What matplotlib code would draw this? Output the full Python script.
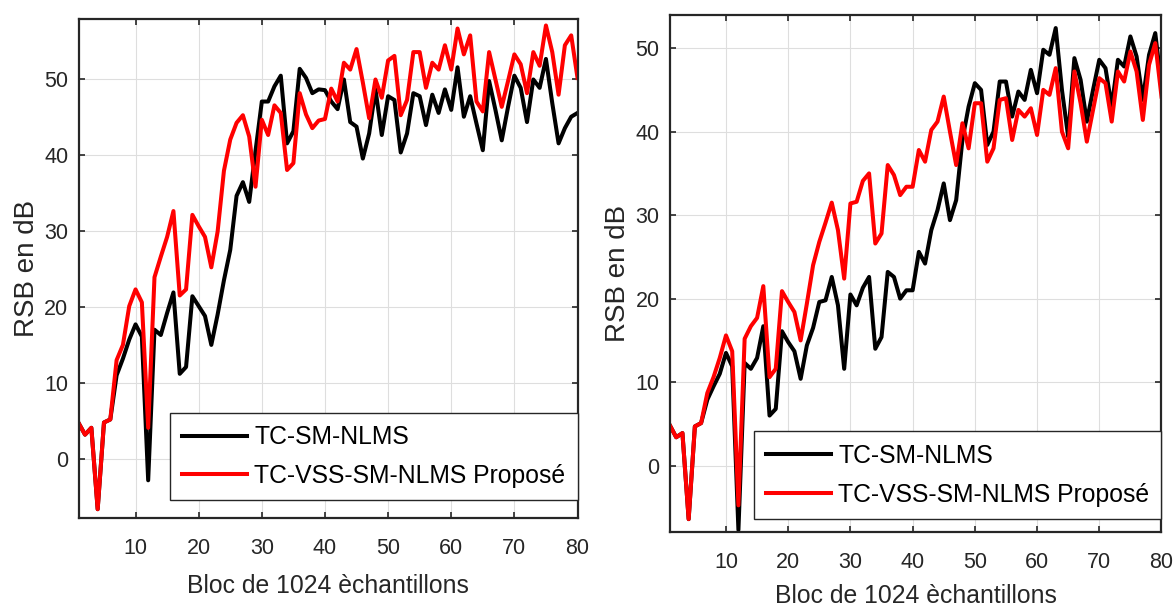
import matplotlib
matplotlib.use('Agg')
import matplotlib.pyplot as plt
import numpy as np

# block index
blocks = np.arange(1, 81)

# left panel
snr_a_sm = [4.7, 3.2, 4.1, -6.6, 4.8, 5.2, 11.0, 13.2, 15.7, 17.7,
            16.1, -2.8, 17.0, 16.3, 19.2, 21.9, 11.2, 12.1, 21.4, 20.1,
            18.8, 15.0, 19.0, 23.5, 27.5, 34.6, 36.4, 33.8, 40.5, 47.0,
            47.0, 49.0, 50.4, 41.5, 43.1, 51.3, 50.1, 48.1, 48.6, 48.5,
            47.0, 46.0, 49.9, 44.3, 43.7, 39.5, 42.8, 48.6, 42.6, 47.7,
            47.2, 40.3, 42.8, 48.1, 47.7, 43.9, 47.9, 45.5, 48.6, 45.9,
            51.5, 45.0, 47.7, 44.1, 40.6, 49.7, 45.9, 41.9, 46.3, 50.4,
            48.8, 44.3, 49.9, 48.8, 52.6, 46.8, 41.5, 43.5, 45.0, 45.5]
snr_a_vss = [4.7, 3.2, 4.1, -6.6, 4.8, 5.2, 13.0, 15.0, 20.1, 22.3,
             20.6, 4.1, 23.9, 26.6, 29.2, 32.6, 21.5, 22.3, 32.1, 30.6,
             29.2, 25.2, 29.9, 37.9, 42.0, 44.2, 45.2, 42.4, 35.8, 44.6,
             42.6, 46.5, 45.5, 38.0, 38.9, 48.1, 45.3, 43.5, 44.5, 44.7,
             48.7, 47.0, 52.1, 51.2, 53.9, 49.5, 44.8, 49.9, 47.5, 52.4,
             53.0, 45.2, 47.2, 53.5, 53.5, 48.8, 52.1, 51.2, 54.4, 51.2,
             56.6, 53.2, 55.7, 47.0, 45.7, 53.5, 49.9, 46.3, 49.7, 53.2,
             51.9, 48.1, 53.5, 51.7, 57.0, 53.5, 47.9, 54.4, 55.7, 50.1]

# right panel
snr_b_sm = [4.8, 3.4, 3.9, -6.4, 4.7, 5.1, 7.9, 9.5, 11.0, 13.5,
            11.9, -7.7, 12.3, 11.6, 12.9, 16.7, 6.0, 6.8, 16.1, 14.8,
            13.7, 10.4, 14.4, 16.5, 19.6, 19.8, 22.6, 19.2, 11.6, 20.5,
            19.2, 21.3, 22.6, 14.0, 15.4, 23.2, 22.6, 20.0, 21.0, 21.0,
            25.6, 24.2, 28.2, 30.6, 33.8, 29.4, 31.8, 39.0, 43.0, 45.8,
            45.0, 38.4, 40.0, 46.0, 46.0, 41.8, 44.8, 43.8, 47.4, 44.6,
            49.8, 49.2, 52.4, 45.0, 39.4, 48.8, 46.2, 41.2, 45.0, 48.6,
            47.6, 43.0, 48.6, 47.8, 51.4, 49.0, 43.8, 49.2, 51.8, 45.4]
snr_b_vss = [4.8, 3.4, 3.9, -6.4, 4.7, 5.1, 8.7, 10.6, 12.9, 15.6,
             13.7, -4.75, 15.2, 16.7, 17.7, 21.5, 10.6, 11.6, 20.9, 19.6,
             18.4, 15.0, 19.4, 24.0, 26.8, 29.1, 31.5, 28.2, 22.4, 31.4,
             31.6, 34.1, 35.0, 26.6, 27.8, 36.0, 34.8, 32.4, 33.4, 33.4,
             37.8, 36.4, 40.2, 41.2, 44.2, 40.0, 36.0, 41.0, 38.0, 43.4,
             43.4, 36.4, 38.0, 43.8, 44.0, 39.0, 42.6, 41.8, 42.8, 39.6,
             45.0, 44.4, 47.6, 40.0, 38.0, 47.2, 43.4, 38.8, 42.6, 46.4,
             45.8, 41.2, 47.2, 46.0, 49.6, 47.2, 41.4, 48.0, 50.6, 44.2]

labels = ['TC-SM-NLMS', 'TC-VSS-SM-NLMS Proposé']

plt.rcParams['font.family'] = ['Liberation Sans', 'DejaVu Sans']

fig = plt.figure(figsize=(11.75, 6.08), dpi=100)
ax1 = fig.add_axes([0.0670, 0.1475, 0.4245, 0.8206])
ax2 = fig.add_axes([0.5702, 0.1242, 0.4183, 0.8516])

# axes, series, y range, legend offset, x label pad
panels = [(ax1, snr_a_sm, snr_a_vss, (-7.8, 57.8), 0.036, 11),
          (ax2, snr_b_sm, snr_b_vss, (-8, 54), 0.026, 8)]

for ax, sm, vss, ylim, leg_y, xpad in panels:
    ax.plot(blocks, sm, color='black', linewidth=2.9, label=labels[0])
    ax.plot(blocks, vss, color='#ff0000', linewidth=2.9, label=labels[1])
    ax.set_xlim(1, 80)
    ax.set_ylim(*ylim)
    ax.set_xticks(np.arange(10, 81, 10))
    ax.set_yticks(np.arange(0, 51, 10))
    ax.grid(True, color='#dedede', linewidth=0.8)
    ax.set_axisbelow(True)
    for sp in ax.spines.values():
        sp.set_color('#262626')
        sp.set_linewidth(1.6)
    ax.tick_params(direction='in', length=4, width=1.2, colors='#262626',
                   labelsize=15.5, top=True, right=True)
    ax.tick_params(axis='x', pad=14)
    ax.tick_params(axis='y', pad=7.5)
    ax.set_xlabel('Bloc de 1024 èchantillons', fontsize=17.8, color='#262626', labelpad=xpad)
    ax.set_ylabel('RSB en dB', fontsize=20, color='#262626', labelpad=3)
    leg = ax.legend(loc='lower right', bbox_to_anchor=(1.0, leg_y), borderaxespad=0,
                    fontsize=17.8, frameon=True, fancybox=False, edgecolor='#262626',
                    framealpha=1, handlelength=2.6, handletextpad=0.3,
                    borderpad=0.5, labelspacing=0.6)
    leg.get_frame().set_linewidth(1.0)

fig.savefig('out.png', dpi=100)
